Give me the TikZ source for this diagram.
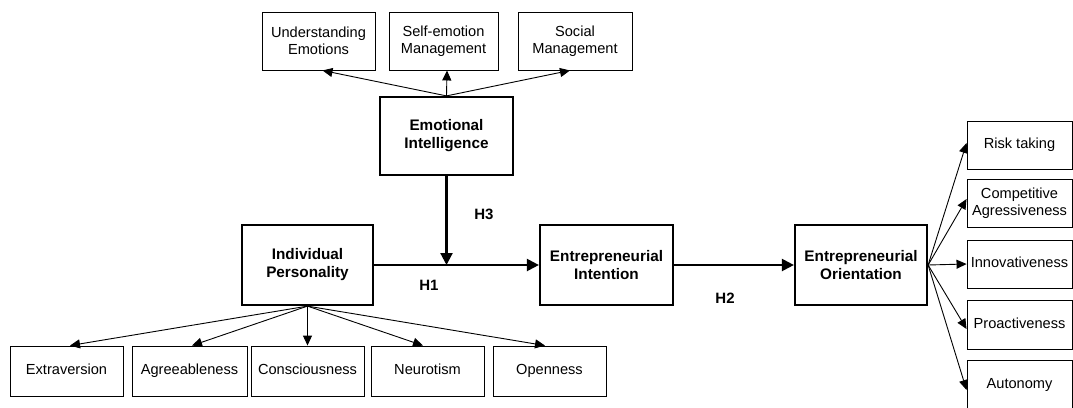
\documentclass[tikz,border=0pt]{standalone}
\usepackage{fontspec}
\setmainfont{Liberation Sans}
\usetikzlibrary{arrows.meta}
\tikzset{
  box/.style={draw, line width=0.9pt, inner sep=0pt, align=center,
    font=\fontsize{14.6}{17.5}\selectfont},
  oneline/.style={text height=10.5pt, text depth=3pt},
  mainbox/.style={draw, line width=2.2pt, inner sep=0pt, align=center,
    minimum width=132pt, minimum height=79pt,
    font=\bfseries\fontsize{15.3}{18}\selectfont},
  topbox/.style={box, minimum height=58pt},
  botbox/.style={box, oneline, minimum width=113pt, minimum height=50pt},
  rbox/.style={box, minimum width=105pt, minimum height=48pt},
  hlab/.style={font=\bfseries\fontsize{15}{18}\selectfont, inner sep=0pt},
  thinarrow/.style={line width=0.9pt, -{Triangle[length=10pt,width=9pt]}},
  thickarrow/.style={line width=2.2pt, -{Triangle[length=12pt,width=12pt]}}
}
\begin{document}
\begin{tikzpicture}[x=1pt,y=-1pt]
\useasboundingbox (0,0) rectangle (1073,407);
% top boxes
\node[topbox, minimum width=113pt] (ue) at (318.5,41) {Understanding\\Emotions};
\node[topbox, minimum width=109pt] (sem) at (443.5,41) {Self-emotion\\Management};
\node[topbox, minimum width=114pt] (sm) at (575,41) {Social\\Management};
% main boxes
\node[mainbox, minimum width=133pt, minimum height=78pt] (ei) at (446.5,136) {Emotional\\Intelligence};
\node[mainbox, minimum width=131pt, minimum height=80pt] (ip) at (307.5,265) {Individual\\Personality};
\node[mainbox, minimum width=133pt, minimum height=80pt] (eint) at (606.5,265) {Entrepreneurial\\Intention};
\node[mainbox, minimum width=132pt, minimum height=80pt] (eo) at (861,265) {Entrepreneurial\\Orientation};
% bottom boxes
\node[botbox] (ex) at (66.5,371) {Extraversion};
\node[botbox, minimum width=115pt] (ag) at (189.5,371) {Agreeableness};
\node[botbox] (co) at (307.5,371) {Consciousness};
\node[botbox] (ne) at (427.5,371) {Neurotism};
\node[botbox] (op) at (549.5,371) {Openness};
% right boxes
\node[rbox, oneline] (rt) at (1019.5,145) {Risk taking};
\node[rbox] (ca) at (1019.5,203) {Competitive\\Agressiveness};
\node[rbox, oneline] (in) at (1019.5,264) {Innovativeness};
\node[rbox, oneline, minimum height=49pt] (pr) at (1019.5,324.5) {Proactiveness};
\node[rbox, oneline, minimum height=50pt] (au) at (1019.5,385) {Autonomy};
% labels
\node[hlab] (h3) at (484,214) {H3};
\node[hlab] (h1) at (429,285) {H1};
\node[hlab] (h2) at (725,298) {H2};
% EI arrows up
\draw[thinarrow] (ei.north) -- ([xshift=4pt]ue.south);
\draw[thinarrow] (ei.north) -- ([xshift=3.5pt]sem.south);
\draw[thinarrow] (ei.north) -- ([xshift=-5pt]sm.south);
% main arrows
\draw[thickarrow] (ip.east) -- (eint.west);
\draw[thickarrow] (ei.south) -- (ei.south |- ip.east);
\draw[thickarrow] (eint.east) -- (eo.west);
% IP arrows down
\draw[thinarrow] (ip.south) -- ([xshift=3.5pt]ex.north);
\draw[thinarrow] (ip.south) -- ([xshift=2.5pt]ag.north);
\draw[thinarrow] (ip.south) -- (co.north);
\draw[thinarrow] (ip.south) -- ([xshift=-4.5pt]ne.north);
\draw[thinarrow] (ip.south) -- ([xshift=-4.5pt]op.north);
% EO arrows right
\draw[thinarrow] (eo.east) -- ([yshift=2pt]rt.west);
\draw[thinarrow] (eo.east) -- ([yshift=4pt]ca.west);
\draw[thinarrow] (eo.east) -- (in.west);
\draw[thinarrow] (eo.east) -- ([yshift=-4.5pt]pr.west);
\draw[thinarrow] (eo.east) -- ([yshift=-5pt]au.west);
\end{tikzpicture}
\end{document}
